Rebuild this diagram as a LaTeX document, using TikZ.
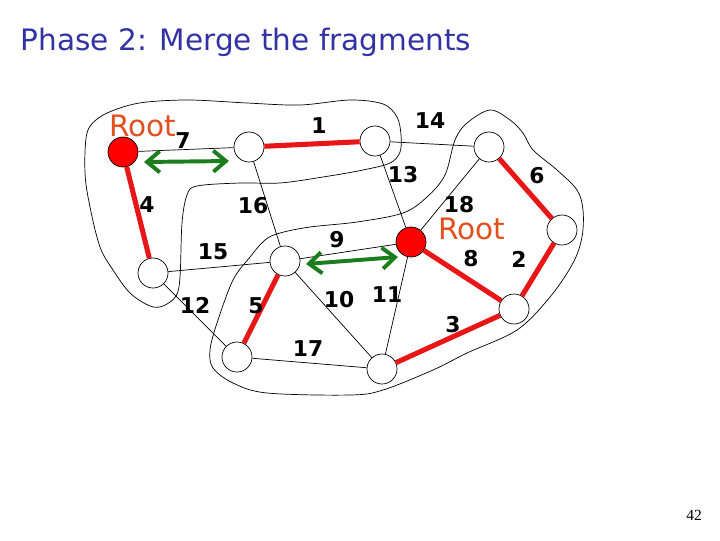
\documentclass[tikz,border=0pt]{standalone}
\usepackage{fontspec}
\setmainfont{DejaVu Sans}
\newfontfamily\pagefont{Liberation Serif}
\usetikzlibrary{arrows.meta}

\definecolor{titleblue}{RGB}{50,50,165}
\definecolor{rootorange}{RGB}{225,80,30}
\definecolor{treered}{RGB}{232,22,22}
\definecolor{mergegreen}{RGB}{28,125,28}

\begin{document}
\begin{tikzpicture}[x=0.025cm,y=-0.025cm,
    vertex/.style={circle,draw,line width=0.5pt,fill=white,inner sep=0pt,minimum size=0.75cm},
    rootvertex/.style={vertex,fill=red},
    link/.style={line width=0.5pt},
    tree/.style={treered,line width=3.6pt},
    frag/.style={line width=0.5pt},
    merge/.style={mergegreen,line width=2.8pt,{Straight Barb[length=9pt,width=15pt]}-{Straight Barb[length=9pt,width=15pt]}},
    wt/.style={font=\fontsize{15.5}{15.5}\selectfont\bfseries},
    rootlbl/.style={rootorange,font=\fontsize{21}{21}\selectfont}]
    \useasboundingbox (0,0) rectangle (720,540);

    % titolo
    \node[titleblue,anchor=west,font=\fontsize{21}{21}\selectfont] (title) at (16,42) {Phase 2: Merge the fragments};

    % frammenti
    \draw[frag] plot[smooth cycle,tension=0.55] coordinates {
        (87,133) (100,117) (123,107) (147,102) (190,100) (247,103) (300,105)
        (350,100) (383,104) (397,117) (401,135) (400,152) (390,163) (363,170)
        (323,177) (280,183) (240,183) (197,186) (187,195) (182,223) (180,277)
        (176,296) (163,306) (150,306) (130,293) (113,270) (100,247) (90,207) (85,173)};
    \draw[frag] plot[smooth cycle,tension=0.55] coordinates {
        (280,233) (310,227) (357,222) (403,213) (427,197) (445,175) (455,140)
        (467,123) (490,110) (510,120) (523,133) (533,150) (557,170) (577,190)
        (583,210) (582,237) (573,263) (550,297) (517,330) (467,353) (433,370)
        (383,390) (350,395) (267,393) (233,383) (213,368) (210,350) (217,323)
        (233,280) (250,257) (265,240)};

    % vertici
    \node[rootvertex] (r1) at (123,152) {};
    \node[vertex] (a) at (249,147) {};
    \node[vertex] (b) at (375,141) {};
    \node[vertex] (c) at (489,147) {};
    \node[vertex] (d) at (562,230) {};
    \node[rootvertex] (r2) at (411,242) {};
    \node[vertex] (e) at (514,309) {};
    \node[vertex] (f) at (285,261) {};
    \node[vertex] (g) at (153,273) {};
    \node[vertex] (h) at (237,357) {};
    \node[vertex] (i) at (382,369) {};

    % archi
    \draw[link] (r1) -- (a);
    \draw[link] (b) -- (c);
    \draw[link] (a) -- (f);
    \draw[link] (b) -- (r2);
    \draw[link] (c) -- (r2);
    \draw[link] (g) -- (f);
    \draw[link] (f) -- (r2);
    \draw[link] (f) -- (i);
    \draw[link] (r2) -- (i);
    \draw[link] (g) -- (h);
    \draw[link] (h) -- (i);

    % albero
    \draw[tree] (a) -- (b);
    \draw[tree] (c) -- (d);
    \draw[tree] (d) -- (e);
    \draw[tree] (r2) -- (e);
    \draw[tree] (e) -- (i);
    \draw[tree] (r1) -- (g);
    \draw[tree] (f) -- (h);

    % fusioni
    \coordinate (m1a) at (144,162);
    \coordinate (m1b) at (229,161);
    \coordinate (m2a) at (306,264);
    \coordinate (m2b) at (398,257);
    \draw[merge] (m1a) -- (m1b);
    \draw[merge] (m2a) -- (m2b);

    % pesi
    \node[wt] (w7) at (183,141) {7};
    \node[wt] (w1) at (319,126) {1};
    \node[wt] (w14) at (430,121) {14};
    \node[wt] (w13) at (403,175) {13};
    \node[wt] (w6) at (537,176) {6};
    \node[wt] (w4) at (147,205) {4};
    \node[wt] (w16) at (253,206) {16};
    \node[wt] (w18) at (459,205) {18};
    \node[wt] (w9) at (337,240) {9};
    \node[wt] (w15) at (213,252) {15};
    \node[wt] (w8) at (471,259) {8};
    \node[wt] (w2) at (519,259) {2};
    \node[wt] (w12) at (195,305) {12};
    \node[wt] (w5) at (256,306) {5};
    \node[wt] (w10) at (339,300) {10};
    \node[wt] (w11) at (387,295) {11};
    \node[wt] (w3) at (453,325) {3};
    \node[wt] (w17) at (308,349) {17};

    % radici
    \node[rootlbl] (root1) at (143,126) {Root};
    \node[rootlbl] (root2) at (472,229) {Root};

    % pagina
    \node[font=\pagefont\fontsize{11}{11}\selectfont] (pagenum) at (694,515) {42};
\end{tikzpicture}
\end{document}
